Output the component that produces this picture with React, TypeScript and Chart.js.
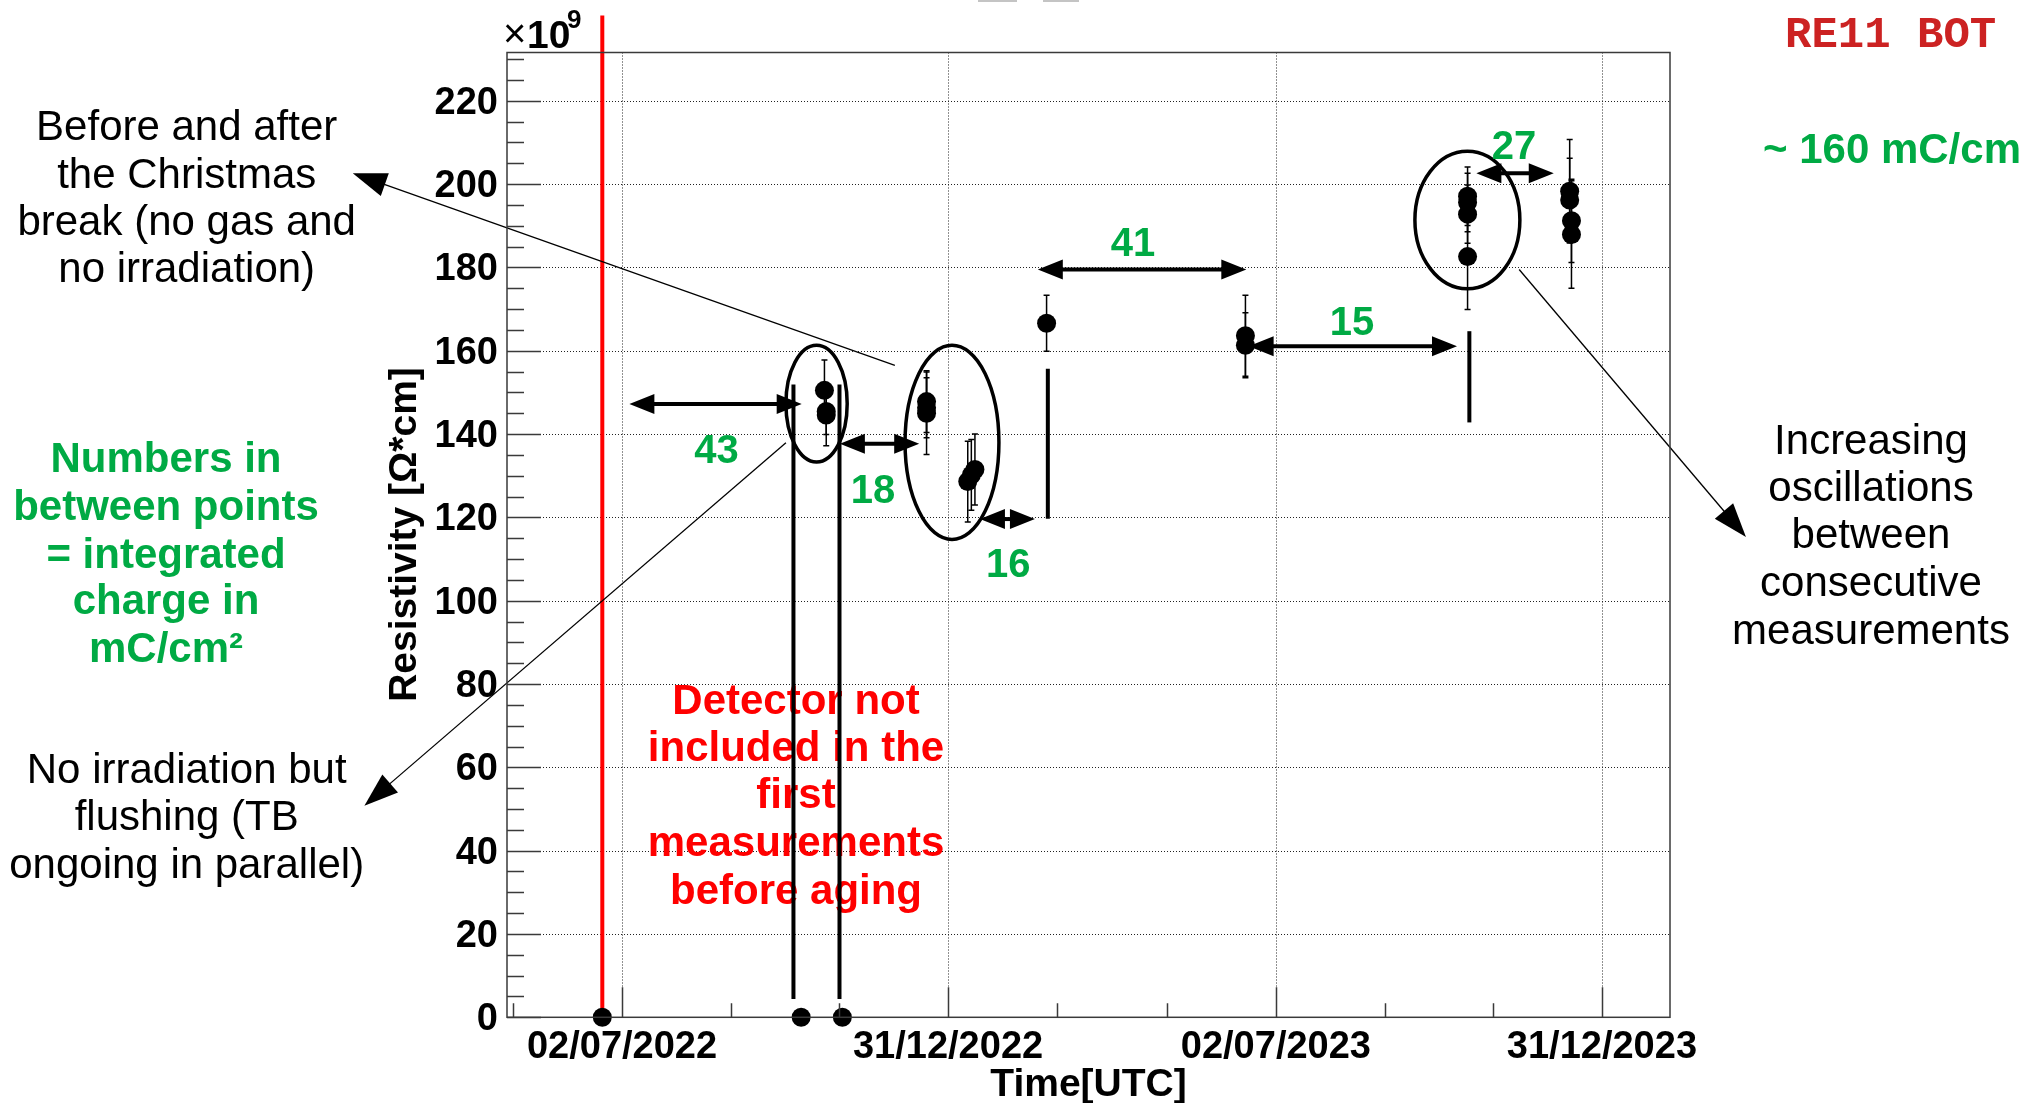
import React, { useEffect, useRef } from 'react';
import { Chart, registerables } from 'chart.js';

Chart.register(...registerables);

const W = 2019;
const H = 1103;
const DAY_MS = 86400000;
const EPOCH = Date.UTC(2022, 6, 2);

const dayOf = (s: string) => {
  const [yy, mm, dd] = s.split('-').map(Number);
  return (Date.UTC(yy, mm - 1, dd) - EPOCH) / DAY_MS;
};
const pad2 = (n: number) => (n < 10 ? '0' + n : '' + n);
const fmtDay = (d: number) => {
  const dt = new Date(EPOCH + Math.round(d) * DAY_MS);
  return pad2(dt.getUTCDate()) + '/' + pad2(dt.getUTCMonth() + 1) + '/' + dt.getUTCFullYear();
};

// ---------------- data ----------------
const measurementDates = [
  '2022-06-21', '2022-10-10', '2022-11-02',
  '2022-10-23', '2022-10-24', '2022-10-24',
  '2022-12-19', '2022-12-19', '2022-12-19',
  '2023-01-11', '2023-01-13', '2023-01-15',
  '2023-02-24',
  '2023-06-15', '2023-06-15',
  '2023-10-17', '2023-10-17', '2023-10-17', '2023-10-17',
  '2023-12-13', '2023-12-13', '2023-12-14', '2023-12-14',
];
const resistivity = [
  0, 0, 0,
  150.5, 144.6, 145.4,
  147.8, 146.3, 145.0,
  128.6, 130.2, 131.5,
  166.6,
  163.6, 161.3,
  197.1, 195.6, 192.8, 182.6,
  198.3, 196.2, 191.2, 187.9,
];
const resistivityError = [
  0, 0, 0,
  7.3, 7.4, 5.5,
  7.4, 7.2, 9.9,
  9.7, 8.5, 8.5,
  6.7,
  9.7, 7.8,
  7.0, 7.0, 7.0, 12.7,
  12.4, 10.0, 10.0, 12.9,
];
const xMajorTickDates = ['2022-07-02', '2022-12-31', '2023-07-02', '2023-12-31'];
const yTickValues = [0, 20, 40, 60, 80, 100, 120, 140, 160, 180, 200, 220];
const xRangeDays = [-64.2, 585];
const yRange = [0, 231.6];

// integrated charge arrows (days, value) and labels
const chargeLabels = ['43', '18', '16', '41', '15', '27'];
const chargeArrowFrom = [4.1, 121.6, 199.8, 232.1, 349.8, 476.9];
const chargeArrowTo = [100.3, 165.9, 230.5, 348.5, 466.1, 520.1];
const chargeArrowLevel = [147.2, 137.7, 119.6, 179.5, 161.1, 202.6];
const chargeLabelDay = [52.7, 140.1, 215.6, 285.2, 407.5, 497.9];
const chargeLabelLevel = [136.6, 126.9, 109.1, 186.3, 167.2, 209.5];

// annotation markers (days, value)
const redLineDate = '2022-06-21';
const markerDays = [95.7, 121.4, 237.7, 473];
const markerLow = [4.4, 4.4, 119.7, 142.8];
const markerHigh = [151.9, 151.9, 155.7, 164.7];
const ellipseDay = [108.6, 184.2, 471.9];
const ellipseLevel = [147.3, 138.0, 191.4];
const ellipseDayRadius = [17.1, 26.2, 29.3];
const ellipseLevelRadius = [14.0, 23.3, 16.5];
const pointerFrom = [[152.3, 156.5], [91.5, 137.9], [500.8, 179.5]];
const pointerTo = [[-150.3, 202.6], [-143.8, 50.8], [627.4, 115.3]];

const GREEN = '#00aa44';
const SANS = '"Liberation Sans", Arial, sans-serif';

function drawArrowHead(ctx: CanvasRenderingContext2D, x0: number, y0: number, x1: number, y1: number, len: number, half: number) {
  const a = Math.atan2(y1 - y0, x1 - x0);
  const c = Math.cos(a), s = Math.sin(a);
  ctx.beginPath();
  ctx.moveTo(x1, y1);
  ctx.lineTo(x1 - len * c + half * s, y1 - len * s - half * c);
  ctx.lineTo(x1 - len * c - half * s, y1 - len * s + half * c);
  ctx.closePath();
  ctx.fill();
}

function drawLines(ctx: CanvasRenderingContext2D, lines: string[], cx: number, baselines: number[], font: string, color: string, align: CanvasTextAlign = 'center') {
  ctx.font = font;
  ctx.fillStyle = color;
  ctx.textAlign = align;
  ctx.textBaseline = 'alphabetic';
  lines.forEach((t, i) => ctx.fillText(t, cx, baselines[i]));
}

const annotatePlugin = {
  id: 'annotate',
  beforeDatasetsDraw(chart: any) {
    const { ctx, chartArea: ca, scales } = chart;
    const xs = scales.x, ys = scales.y;
    const X = (v: number) => xs.getPixelForValue(v);
    const Y = (v: number) => ys.getPixelForValue(v);
    const majors = xMajorTickDates.map(dayOf);
    ctx.save();

    // dotted grid
    ctx.strokeStyle = '#222';
    ctx.lineWidth = 1;
    ctx.setLineDash([1, 2]);
    ctx.beginPath();
    for (const v of yTickValues) {
      if (v === 0) continue;
      const py = Math.round(Y(v)) + 0.5;
      ctx.moveTo(ca.left, py);
      ctx.lineTo(ca.right, py);
    }
    for (const d of majors) {
      const px = Math.round(X(d)) + 0.5;
      ctx.moveTo(px, ca.top);
      ctx.lineTo(px, ca.bottom);
    }
    ctx.stroke();
    ctx.setLineDash([]);

    // red "Detector not included" text
    drawLines(ctx, ['Detector not', 'included in the', 'first', 'measurements', 'before aging'], 796,
      [714, 761, 808, 856, 904], `bold 42px ${SANS}`, '#ff0000');

    // red vertical line
    const rx = X(dayOf(redLineDate));
    ctx.strokeStyle = '#ff0000';
    ctx.lineWidth = 4;
    ctx.beginPath();
    ctx.moveTo(rx, Y(240.5));
    ctx.lineTo(rx, Y(0));
    ctx.stroke();

    // black vertical markers
    ctx.strokeStyle = '#000';
    ctx.lineWidth = 4;
    markerDays.forEach((d, i) => {
      ctx.beginPath();
      ctx.moveTo(X(d), Y(markerHigh[i]));
      ctx.lineTo(X(d), Y(markerLow[i]));
      ctx.stroke();
    });

    // ellipses
    ctx.lineWidth = 3.5;
    ellipseDay.forEach((d, i) => {
      const cx = X(d), cy = Y(ellipseLevel[i]);
      const rX = Math.abs(X(d + ellipseDayRadius[i]) - cx);
      const rY = Math.abs(Y(ellipseLevel[i] + ellipseLevelRadius[i]) - cy);
      ctx.beginPath();
      ctx.ellipse(cx, cy, rX, rY, 0, 0, Math.PI * 2);
      ctx.stroke();
    });

    // double arrows with charge labels
    ctx.fillStyle = '#000';
    chargeLabels.forEach((lab, i) => {
      const x0 = X(chargeArrowFrom[i]), x1 = X(chargeArrowTo[i]), y = Y(chargeArrowLevel[i]);
      ctx.lineWidth = 4;
      ctx.beginPath();
      ctx.moveTo(x0 + 12, y);
      ctx.lineTo(x1 - 12, y);
      ctx.stroke();
      drawArrowHead(ctx, x1, y, x0, y, 25, 10);
      drawArrowHead(ctx, x0, y, x1, y, 25, 10);
      ctx.font = `bold 40px ${SANS}`;
      ctx.fillStyle = GREEN;
      ctx.textAlign = 'center';
      ctx.textBaseline = 'alphabetic';
      ctx.fillText(lab, X(chargeLabelDay[i]), Y(chargeLabelLevel[i]) + 14.5);
      ctx.fillStyle = '#000';
    });

    // thin pointers
    ctx.lineWidth = 1.3;
    pointerFrom.forEach((f, i) => {
      const t = pointerTo[i];
      const x0 = X(f[0]), y0 = Y(f[1]), x1 = X(t[0]), y1 = Y(t[1]);
      const a = Math.atan2(y1 - y0, x1 - x0);
      ctx.beginPath();
      ctx.moveTo(x0, y0);
      ctx.lineTo(x1 - 20 * Math.cos(a), y1 - 20 * Math.sin(a));
      ctx.stroke();
      drawArrowHead(ctx, x0, y0, x1, y1, 34, 12);
    });

    // error bars
    ctx.lineWidth = 1.5;
    ctx.strokeStyle = '#000';
    measurementDates.forEach((s, i) => {
      const e = resistivityError[i];
      if (!e) return;
      const px = X(dayOf(s));
      const yt = Y(resistivity[i] + e), yb = Y(resistivity[i] - e);
      ctx.beginPath();
      ctx.moveTo(px, yt); ctx.lineTo(px, yb);
      ctx.moveTo(px - 3, yt); ctx.lineTo(px + 3, yt);
      ctx.moveTo(px - 3, yb); ctx.lineTo(px + 3, yb);
      ctx.stroke();
    });
    ctx.restore();
  },
  afterDatasetsDraw(chart: any) {
    const { ctx, chartArea: ca, scales } = chart;
    const xs = scales.x, ys = scales.y;
    const X = (v: number) => xs.getPixelForValue(v);
    const Y = (v: number) => ys.getPixelForValue(v);
    ctx.save();
    // frame
    ctx.strokeStyle = '#3a3a3a';
    ctx.lineWidth = 1.5;
    ctx.strokeRect(ca.left, ca.top, ca.right - ca.left, ca.bottom - ca.top);
    // y ticks
    ctx.beginPath();
    for (let v = 0; v <= yRange[1]; v += 5) {
      const py = Math.round(Y(v)) + 0.5;
      const len = v % 20 === 0 ? 34 : 17;
      ctx.moveTo(ca.left, py);
      ctx.lineTo(ca.left + len, py);
    }
    // x ticks
    const majors = xMajorTickDates.map(dayOf);
    const minors: number[] = [];
    for (let i = 0; i < majors.length - 1; i++) {
      const step = (majors[i + 1] - majors[i]) / 3;
      minors.push(majors[i] + step, majors[i] + 2 * step);
    }
    minors.push(majors[0] - (majors[1] - majors[0]) / 3);
    majors.forEach((d) => {
      const px = Math.round(X(d)) + 0.5;
      ctx.moveTo(px, ca.bottom);
      ctx.lineTo(px, ca.bottom - 30);
    });
    minors.forEach((d) => {
      if (d < xRangeDays[0] || d > xRangeDays[1]) return;
      const px = Math.round(X(d)) + 0.5;
      ctx.moveTo(px, ca.bottom);
      ctx.lineTo(px, ca.bottom - 14);
    });
    ctx.stroke();
    ctx.restore();
  },
  afterDraw(chart: any) {
    const { ctx, chartArea: ca } = chart;
    ctx.save();
    // x10^9
    ctx.fillStyle = '#000';
    ctx.textAlign = 'left';
    ctx.textBaseline = 'alphabetic';
    ctx.font = `40px ${SANS}`;
    ctx.fillText('\u00d7', 503, 47);
    ctx.font = `bold 39px ${SANS}`;
    ctx.fillText('10', 527, 48);
    ctx.font = `bold 26px ${SANS}`;
    ctx.fillText('9', 567, 28);

    // axis titles
    ctx.font = `bold 39px ${SANS}`;
    ctx.textAlign = 'center';
    ctx.fillText('Time[UTC]', (ca.left + ca.right) / 2, 1096);
    ctx.save();
    ctx.translate(416, 534.5);
    ctx.rotate(-Math.PI / 2);
    ctx.fillText('Resistivity [\u03a9*cm]', 0, 0);
    ctx.restore();

    // side annotations
    drawLines(ctx, ['Before and after', 'the Christmas', 'break (no gas and', 'no irradiation)'], 186.7,
      [140, 188, 235, 282], `42px ${SANS}`, '#000');
    drawLines(ctx, ['Numbers in', 'between points', '= integrated', 'charge in', 'mC/cm\u00b2'], 166,
      [472, 520, 568, 614, 662], `bold 42px ${SANS}`, GREEN);
    drawLines(ctx, ['No irradiation but', 'flushing (TB', 'ongoing in parallel)'], 186.7,
      [783, 830, 878], `42px ${SANS}`, '#000');
    drawLines(ctx, ['Increasing', 'oscillations', 'between', 'consecutive', 'measurements'], 1871,
      [454, 501, 548, 596, 644], `42px ${SANS}`, '#000');

    // top-right labels
    drawLines(ctx, ['RE11 BOT'], 1785, [47], 'bold 44px "Liberation Mono", "Courier New", monospace', '#cc2222', 'left');
    drawLines(ctx, ['~ 160 mC/cm\u00b2'], 1763, [163], `bold 42px ${SANS}`, GREEN, 'left');

    // remnants of a cropped title at the very top
    ctx.fillStyle = '#c4c4c4';
    ctx.fillRect(978, 0, 39, 2);
    ctx.fillRect(1043, 0, 36, 2);
    ctx.restore();
  },
};

export default function App() {
  const ref = useRef<HTMLCanvasElement | null>(null);
  useEffect(() => {
    if (!ref.current) return;
    const points = measurementDates.map((s, i) => ({ x: dayOf(s), y: resistivity[i] }));
    const majors = xMajorTickDates.map(dayOf);
    const tickFont = { family: SANS, size: 38, weight: 'bold' as const };
    const chart = new Chart(ref.current, {
      type: 'scatter',
      data: {
        datasets: [
          {
            data: points,
            backgroundColor: '#000',
            borderColor: '#000',
            borderWidth: 0,
            pointRadius: 9.5,
            pointHoverRadius: 9.5,
            clip: false as any,
          },
        ],
      },
      options: {
        responsive: false,
        animation: false,
        devicePixelRatio: 1,
        events: [],
        layout: { padding: { top: 52.5, right: W - 1670, left: 0, bottom: 0 } },
        plugins: { legend: { display: false }, tooltip: { enabled: false } },
        scales: {
          x: {
            type: 'linear',
            min: xRangeDays[0],
            max: xRangeDays[1],
            afterFit: (s: any) => { s.height = H - 1017.3; },
            afterBuildTicks: (s: any) => { s.ticks = majors.map((v) => ({ value: v })); },
            grid: { display: false, drawTicks: false },
            border: { display: false },
            ticks: {
              callback: (v: any) => fmtDay(Number(v)),
              font: tickFont,
              color: '#000',
              padding: 7,
              autoSkip: false,
              maxRotation: 0,
            },
          },
          y: {
            type: 'linear',
            min: yRange[0],
            max: yRange[1],
            afterFit: (s: any) => { s.width = 507; },
            afterBuildTicks: (s: any) => { s.ticks = yTickValues.map((v) => ({ value: v })); },
            grid: { display: false, drawTicks: false },
            border: { display: false },
            ticks: { font: tickFont, color: '#000', padding: 9, labelOffset: 2.5 },
          },
        },
      },
      plugins: [annotatePlugin],
    });
    return () => chart.destroy();
  }, []);
  return (
    <div style={{ position: 'fixed', left: 0, top: 0, width: W, height: H, background: '#fff' }}>
      <canvas ref={ref} width={W} height={H} style={{ display: 'block', width: W, height: H }} />
    </div>
  );
}
